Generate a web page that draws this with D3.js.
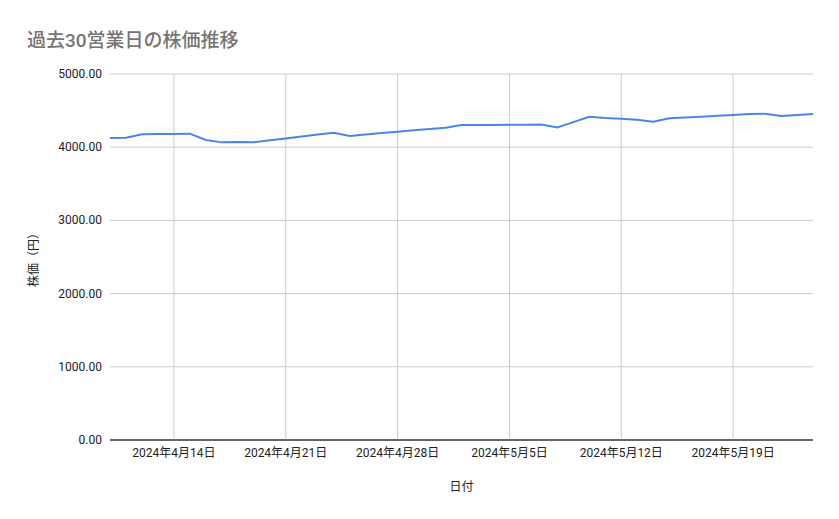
<!DOCTYPE html>
<html><head><meta charset="utf-8">
<script src="https://cdn.jsdelivr.net/npm/d3@7"></script>
<style>body{margin:0;background:#fff;font-family:Roboto,"Noto Sans CJK JP",sans-serif}</style>
</head><body><svg id="chart" width="839" height="519"></svg>
<script>
// daily closing prices, 2024-04-10 .. 2024-05-24
const startDate = "2024-04-10";
const prices = [4124,4128,4176,4180,4182,4185,4098,4066,4072,4068,
  4094,4120,4146,4172,4198,4153,4175,4195,4212,4230,4248,4266,4303,
  4303,4304,4305,4307,4310,4270,4343,4416,4400,4390,4375,4348,4394,
  4405,4415,4428,4440,4452,4458,4426,4440,4453];
const yTicks = [0,1000,2000,3000,4000,5000];
const xTickDates = ["2024-04-14","2024-04-21","2024-04-28","2024-05-05","2024-05-12","2024-05-19"];

const parse = d3.utcParse("%Y-%m-%d");
const t0 = parse(startDate);
const data = prices.map((v,i) => ({date: d3.utcDay.offset(t0,i), value: v}));

const svg = d3.select("#chart");
const m = {left:110, right:26, top:74, bottom:79};
const W = 839, H = 519;

let x = d3.scaleUtc().domain(d3.extent(data, d => d.date)).range([m.left, W-m.right]);
let y = d3.scaleLinear().domain([0,5000]).range([H-m.bottom, m.top]);

svg.append("g").selectAll("line").data(yTicks).join("line")
  .attr("x1",m.left).attr("x2",W-m.right)
  .attr("y1",d=>y(d)).attr("y2",d=>y(d))
  .attr("stroke",d=>d===0?"#333":"#ccc");
svg.append("g").selectAll("text").data(yTicks).join("text")
  .attr("x",m.left-8).attr("y",d=>y(d)+4).attr("text-anchor","end")
  .attr("font-size",12).attr("fill","#222").text(d=>d3.format(".2f")(d));

const xt = xTickDates.map(parse);
svg.append("g").selectAll("line").data(xt).join("line")
  .attr("x1",d=>x(d)).attr("x2",d=>x(d))
  .attr("y1",m.top).attr("y2",H-m.bottom).attr("stroke","#ccc");
svg.append("g").selectAll("text").data(xt).join("text")
  .attr("x",d=>x(d)).attr("y",H-m.bottom+17).attr("text-anchor","middle")
  .attr("font-size",12).attr("fill","#222")
  .text(d=>`${d.getUTCFullYear()}年${d.getUTCMonth()+1}月${d.getUTCDate()}日`);
svg.append("line").attr("x1",m.left).attr("x2",W-m.right)
  .attr("y1",y(0)).attr("y2",y(0)).attr("stroke","#333");

svg.append("path").datum(data)
  .attr("fill","none").attr("stroke","#4a86e8").attr("stroke-width",2)
  .attr("d", d3.line().x(d=>x(d.date)).y(d=>y(d.value)));

svg.append("text").attr("x",27).attr("y",47).attr("font-size",19).attr("font-weight",500)
  .attr("fill","#757575").text("過去30営業日の株価推移");
svg.append("text").attr("transform",`translate(38,${(m.top+H-m.bottom)/2}) rotate(-90)`)
  .attr("text-anchor","middle").attr("font-size",12).attr("fill","#222").text("株価（円）");
svg.append("text").attr("x",(m.left+W-m.right)/2).attr("y",491)
  .attr("text-anchor","middle").attr("font-size",12).attr("fill","#222").text("日付");
</script></body></html>
